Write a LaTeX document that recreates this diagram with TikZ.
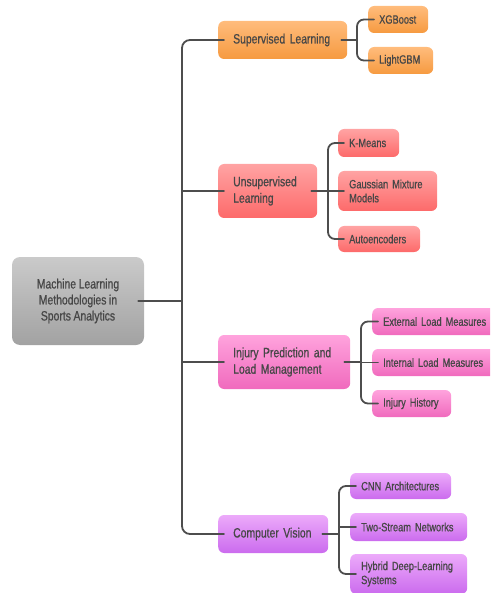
\documentclass[tikz,border=0pt]{standalone}
\usepackage{fontspec}
\setmainfont{Liberation Sans}[FakeStretch=0.77, FakeBold=0.7]
\usepackage{tikz}
\hyphenpenalty=10000
\exhyphenpenalty=10000
\newcommand\narrowgap{\spaceskip=2.6pt\relax}
\definecolor{penColor}{HTML}{4D4D4D}
\definecolor{textColor}{HTML}{474747}
\definecolor{grayTop}{HTML}{CACACA}
\definecolor{grayBot}{HTML}{A2A2A2}
\definecolor{orangeTop}{HTML}{FFBC7C}
\definecolor{orangeBot}{HTML}{F69A40}
\definecolor{redTop}{HTML}{FFA3A3}
\definecolor{redBot}{HTML}{FD6A6A}
\definecolor{pinkTop}{HTML}{FFA3DD}
\definecolor{pinkBot}{HTML}{F06ABD}
\definecolor{purpleTop}{HTML}{ECAAFA}
\definecolor{purpleBot}{HTML}{CB6BEE}
\tikzset{
  box/.style={rounded corners=6, text=textColor, anchor=west, align=left, inner ysep=0},
  rootbox/.style={rounded corners=8, text=textColor, align=center,
    font=\fontsize{13.5}{16}\selectfont\narrowgap, top color=grayTop, bottom color=grayBot},
  branch/.style={box, font=\fontsize{13.5}{16.5}\selectfont\narrowgap, inner xsep=15},
  leaf/.style={box, font=\fontsize{12}{14}\selectfont\narrowgap, inner xsep=11},
  supFill/.style={top color=orangeTop, bottom color=orangeBot},
  unsupFill/.style={top color=redTop, bottom color=redBot},
  injFill/.style={top color=pinkTop, bottom color=pinkBot},
  visFill/.style={top color=purpleTop, bottom color=purpleBot},
  link/.style={penColor, line width=1.8},
  stem/.style={link, shorten <=-6},
  spine/.style={link, shorten <=-6, shorten >=-6}
}
\begin{document}
\begin{tikzpicture}[x=1pt, y=-1pt, line cap=round]

  \useasboundingbox (0,0) rectangle (490,593);
  \clip (0,0) rectangle (490,593);

  \node [rootbox, minimum width=132, minimum height=88] (root) at (78,301)
    {Machine Learning\\Methodologies in\\Sports Analytics};

  \node [branch, supFill, text width=99, minimum height=38] (sup) at (218,40) {Supervised Learning};
  \node [branch, unsupFill, text width=69, minimum height=54] (unsup) at (218,191) {Unsupervised\\Learning};
  \node [branch, injFill, text width=102, minimum height=54] (inj) at (218,362) {Injury Prediction and\\Load Management};
  \node [branch, visFill, text width=80, minimum height=38] (vis) at (218,534) {Computer Vision};

  \node [leaf, supFill, text width=38, minimum height=27] (xgb) at (368,19.5) {XGBoost};
  \node [leaf, supFill, text width=43, minimum height=27] (lgbm) at (368,60.5) {LightGBM};

  \node [leaf, unsupFill, text width=39, minimum height=28] (kmeans) at (338,143) {K-Means};
  \node [leaf, unsupFill, text width=77, minimum height=40] (gmm) at (338,191) {Gaussian Mixture\\Models};
  \node [leaf, unsupFill, text width=60, minimum height=26] (autoenc) at (338,239) {Autoencoders};

  \node [leaf, injFill, text width=108, minimum height=27] (extload) at (372,321.5) {External Load Measures};
  \node [leaf, injFill, text width=108, minimum height=27] (intload) at (372,362.5) {Internal Load Measures};
  \node [leaf, injFill, text width=57, minimum height=27] (history) at (372,403.5) {Injury History};

  \node [leaf, visFill, text width=79, minimum height=26] (cnn) at (350,486) {CNN Architectures};
  \node [leaf, visFill, text width=95, minimum height=28] (twostream) at (350,527) {Two-Stream Networks};
  \node [leaf, visFill, text width=95, minimum height=40] (hybrid) at (350,574) {Hybrid Deep-Learning\\Systems};

  \coordinate (trunk) at (182,301);
  \coordinate (supJ) at (357,40);
  \coordinate (unsupJ) at (328,191);
  \coordinate (injJ) at (361,362);
  \coordinate (visJ) at (339,534);

  % main trunk
  \draw [stem] (root.east) -- (trunk);
  \draw [link, shorten <=-6, shorten >=-6, rounded corners=8] (sup.west) -| (trunk) |- (vis.west);
  \draw [stem] (unsup.west) -- (unsup.west -| trunk);
  \draw [stem] (inj.west) -- (inj.west -| trunk);

  \draw [stem] (sup.east) -- (supJ);
  \draw [spine, rounded corners=7] (xgb.west) -| (supJ) |- (lgbm.west);

  \draw [stem] (unsup.east) -- (unsupJ);
  \draw [spine, rounded corners=7] (kmeans.west) -| (unsupJ) |- (autoenc.west);
  \draw [stem] (gmm.west) -- (gmm.west -| unsupJ);

  \draw [stem] (inj.east) -- (injJ);
  \draw [spine, rounded corners=7] (extload.west) -| (injJ) |- (history.west);
  \draw [stem] (intload.west) -- (intload.west -| injJ);

  \draw [stem] (vis.east) -- (visJ);
  \draw [spine, rounded corners=7] (cnn.west) -| (visJ) |- (hybrid.west);
  \draw [stem] (twostream.west) -- (twostream.west -| visJ);

\end{tikzpicture}
\end{document}
